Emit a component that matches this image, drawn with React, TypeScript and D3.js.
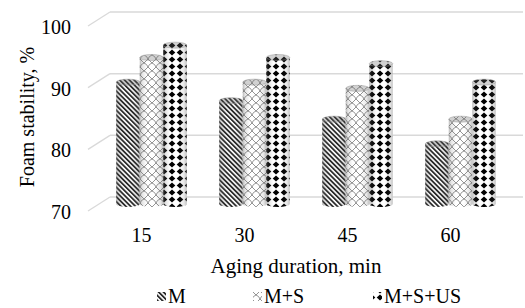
import { useEffect, useRef } from "react";
import * as d3 from "d3";

const categories = ["15", "30", "45", "60"];
const seriesNames = ["M", "M+S", "M+S+US"];
const valuesM = [90, 87, 84, 80];
const valuesMS = [94, 90, 89, 84];
const valuesMSUS = [96, 94, 93, 90];
const yTicks = [70, 80, 90, 100];

const W = 525;
const H = 308;
const FONT = "'Liberation Serif', 'Times New Roman', serif";

export default function App() {
  const ref = useRef<SVGSVGElement | null>(null);

  useEffect(() => {
    const svg = d3.select(ref.current);
    svg.selectAll("*").remove();

    // 3D depth offset (front plane -> back wall)
    const depthX = 22;
    const depthY = -14;

    const x = d3.scaleBand().domain(categories).range([90, 502]).padding(0);
    const y = d3.scaleLinear().domain([70, 100]).range([211, 26]);
    const inner = d3.scaleBand().domain(seriesNames).range([0, 70.5]).padding(0);

    const defs = svg.append("defs");

    // M: diagonal stripes
    const pM = defs
      .append("pattern")
      .attr("id", "patM")
      .attr("patternUnits", "userSpaceOnUse")
      .attr("width", 3.4)
      .attr("height", 3.4)
      .attr("patternTransform", "rotate(-45)");
    pM.append("rect").attr("width", 3.4).attr("height", 3.4).attr("fill", "#fff");
    pM.append("rect").attr("width", 1.8).attr("height", 3.4).attr("fill", "#2a2a2a");

    // M+S: shingle-like gray pattern
    const pS = defs
      .append("pattern")
      .attr("id", "patMS")
      .attr("patternUnits", "userSpaceOnUse")
      .attr("width", 8)
      .attr("height", 8);
    pS.append("rect").attr("width", 8).attr("height", 8).attr("fill", "#fff");
    pS.append("path")
      .attr("d", "M0,7 L4,3 L8,7 M4,3 Q5,0 8,-1 M0,-1 Q3,0 4,3 M4,11 Q5,8 8,7 M0,7 Q3,8 4,11")
      .attr("fill", "none")
      .attr("stroke", "#888")
      .attr("stroke-width", 0.9);

    // M+S+US: black diamonds
    const pU = defs
      .append("pattern")
      .attr("id", "patMSUS")
      .attr("patternUnits", "userSpaceOnUse")
      .attr("width", 8)
      .attr("height", 7);
    pU.append("rect").attr("width", 8).attr("height", 7).attr("fill", "#fff");
    pU.append("polygon")
      .attr("points", "4,0.6 7.3,3.5 4,6.4 0.7,3.5")
      .attr("fill", "#000");

    const patterns: Record<string, string> = {
      M: "url(#patM)",
      "M+S": "url(#patMS)",
      "M+S+US": "url(#patMSUS)",
    };

    // cylinder shading
    const shade = defs
      .append("linearGradient")
      .attr("id", "cylShade")
      .attr("x1", "0%")
      .attr("x2", "100%");
    [
      [0, 0.45],
      [0.1, 0.18],
      [0.3, 0.0],
      [0.65, 0.0],
      [0.88, 0.15],
      [1, 0.4],
    ].forEach(([o, a]) => {
      shade
        .append("stop")
        .attr("offset", `${o * 100}%`)
        .attr("stop-color", "#666")
        .attr("stop-opacity", a);
    });

    // gridlines: back wall + side diagonal
    const grid = svg.append("g");
    yTicks.forEach((t) => {
      const fy = y(t);
      grid
        .append("line")
        .attr("x1", 88)
        .attr("y1", fy)
        .attr("x2", 88 + depthX)
        .attr("y2", fy + depthY)
        .attr("stroke", "#d9d9d9")
        .attr("stroke-width", 1.3);
      grid
        .append("line")
        .attr("x1", 88 + depthX)
        .attr("y1", fy + depthY)
        .attr("x2", 523)
        .attr("y2", fy + depthY)
        .attr("stroke", "#d9d9d9")
        .attr("stroke-width", 1.5);
    });

    // y tick labels
    svg
      .append("g")
      .selectAll("text")
      .data(yTicks)
      .enter()
      .append("text")
      .attr("x", 71)
      .attr("y", (d) => y(d) + 8)
      .attr("text-anchor", "end")
      .style("font-family", FONT)
      .style("font-size", "20px")
      .style("fill", "#000")
      .text((d) => d);

    // x tick labels
    svg
      .append("g")
      .selectAll("text")
      .data(categories)
      .enter()
      .append("text")
      .attr("x", (d) => (x(d) as number) + x.bandwidth() / 2)
      .attr("y", 242)
      .attr("text-anchor", "middle")
      .style("font-family", FONT)
      .style("font-size", "20px")
      .text((d) => d);

    // axis titles
    svg
      .append("text")
      .attr("x", 296)
      .attr("y", 273)
      .attr("text-anchor", "middle")
      .style("font-family", FONT)
      .style("font-size", "21px")
      .text("Aging duration, min");

    svg
      .append("text")
      .attr("transform", "translate(34,117) rotate(-90)")
      .attr("text-anchor", "middle")
      .style("font-family", FONT)
      .style("font-size", "20px")
      .text("Foam stability, %");

    // cylinders
    const cells: { cat: string; s: string; v: number }[] = [];
    categories.forEach((c, i) => {
      cells.push({ cat: c, s: "M", v: valuesM[i] });
      cells.push({ cat: c, s: "M+S", v: valuesMS[i] });
      cells.push({ cat: c, s: "M+S+US", v: valuesMSUS[i] });
    });

    const ry = 3;
    const bars = svg.append("g");
    cells.forEach((d) => {
      const groupStart =
        (x(d.cat) as number) + (x.bandwidth() - 70.5) / 2 + depthX / 2 - 1;
      const x0 = groupStart + (inner(d.s) as number);
      const w = inner.bandwidth();
      const x1 = x0 + w;
      const rx = w / 2;
      const yTop = y(d.v) + depthY / 2 + 1.5;
      const yBot = y(70) + depthY / 2;
      const body = `M${x0},${yTop} V${yBot} A${rx},${ry} 0 0 0 ${x1},${yBot} V${yTop} Z`;
      const g = bars.append("g");
      g.append("path").attr("d", body).attr("fill", patterns[d.s]);
      g.append("path").attr("d", body).attr("fill", "url(#cylShade)");
      g.append("ellipse")
        .attr("cx", x0 + rx)
        .attr("cy", yTop)
        .attr("rx", rx)
        .attr("ry", ry)
        .attr("fill", patterns[d.s]);
      g.append("ellipse")
        .attr("cx", x0 + rx)
        .attr("cy", yTop)
        .attr("rx", rx)
        .attr("ry", ry)
        .attr("fill", "#666")
        .attr("fill-opacity", 0.3)
        .attr("stroke", "#999")
        .attr("stroke-width", 0.5);
    });

    // legend
    const legendX = [157, 253, 373];
    const legend = svg.append("g");
    seriesNames.forEach((s, i) => {
      legend
        .append("rect")
        .attr("x", legendX[i])
        .attr("y", 292)
        .attr("width", 9)
        .attr("height", 9)
        .attr("fill", patterns[s]);
      legend
        .append("text")
        .attr("x", legendX[i] + 11)
        .attr("y", 303)
        .style("font-family", FONT)
        .style("font-size", "20px")
        .text(s);
    });
  }, []);

  return (
    <svg
      ref={ref}
      width={W}
      height={H}
      style={{ position: "absolute", left: 0, top: 0, background: "#fff" }}
    />
  );
}
